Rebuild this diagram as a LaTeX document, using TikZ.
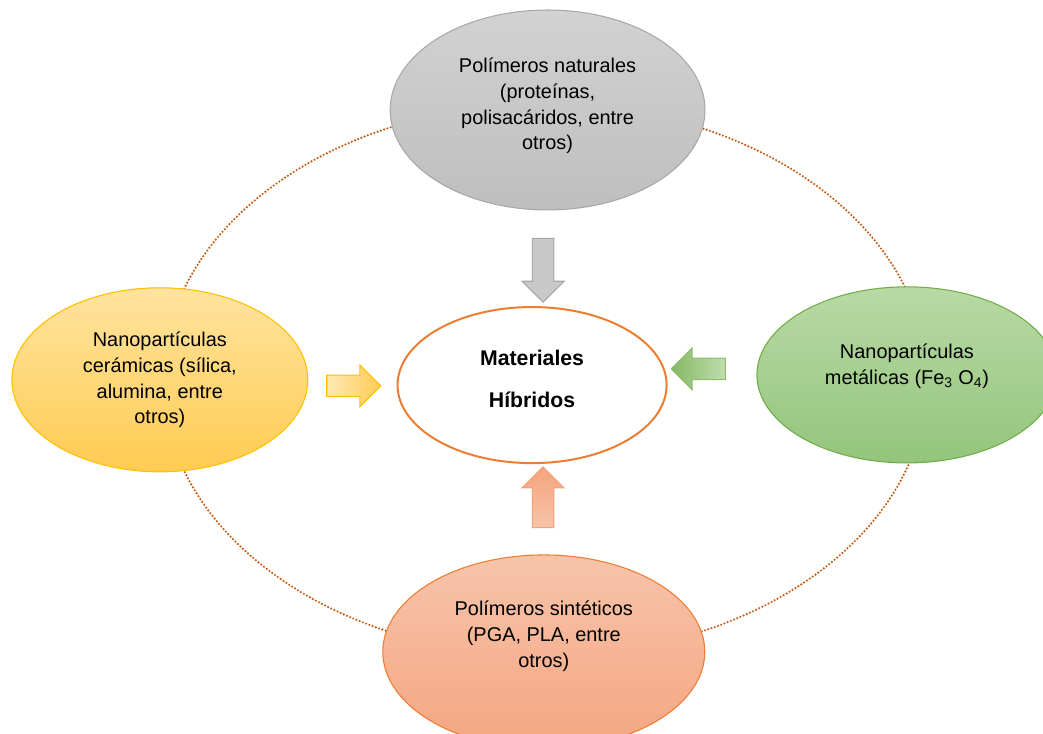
\documentclass[tikz,border=0pt]{standalone}
\usepackage{fontspec}
\setmainfont{Liberation Sans}
\usepackage{tikz}
\usetikzlibrary{positioning}
\usetikzlibrary{shapes}
\usetikzlibrary{shapes.arrows}

\definecolor{ringorange}{HTML}{C55A11}
\definecolor{hubline}{HTML}{ED7D31}
\definecolor{grayA}{HTML}{D2D2D2}
\definecolor{grayB}{HTML}{BEBEBE}
\definecolor{grayline}{HTML}{A8A8A8}
\definecolor{yelA}{HTML}{FFE39F}
\definecolor{yelB}{HTML}{FFCC52}
\definecolor{yelline}{HTML}{FFC000}
\definecolor{grnA}{HTML}{B8D9A5}
\definecolor{grnB}{HTML}{94C57C}
\definecolor{grnline}{HTML}{70AD47}
\definecolor{orgA}{HTML}{F7C4AA}
\definecolor{orgB}{HTML}{F4A681}
\definecolor{orgline}{HTML}{ED7D31}

\begin{document}
\begin{tikzpicture}[
		ell/.style={ellipse, draw, line width=0.8pt},
		txt/.style={align=center, font=\fontsize{15}{19.5}\selectfont},
		blockarrow/.style={single arrow, draw, line width=0.8pt, inner sep=0.27cm, single arrow head extend=0.27cm},
		ring/.style={draw=ringorange, line width=1.8pt, line cap=round, dash pattern=on 0pt off 2.6pt}
	]
			\useasboundingbox (0,0) rectangle (27.6,-19.42);
			
			% dotted ring behind the ellipses
			\coordinate (C) at (14.42,-10.05);
			\draw[ring] (C) ellipse [x radius=10.11cm, y radius=7.30cm];
			
			\node[ell, draw=hubline, line width=1.5pt, fill=white, minimum width=7.12cm, minimum height=4.13cm] (0) at (14.08,-10.19) {};
			\node[ell, draw=grayline, top color=grayA, bottom color=grayB, minimum width=8.33cm, minimum height=5.29cm] (1) at (14.49,-2.91) {};
			\node[ell, draw=yelline, top color=yelA, bottom color=yelB, minimum width=7.83cm, minimum height=4.87cm] (2) at (4.23,-10.05) {};
			\node[ell, draw=grnline, top color=grnA, bottom color=grnB, minimum width=7.94cm, minimum height=4.66cm] (3) at (24.00,-9.92) {};
			\node[ell, draw=orgline, top color=orgA, bottom color=orgB, minimum width=8.52cm, minimum height=5.13cm] (4) at (14.39,-17.25) {};
			
			\node[txt, font=\bfseries\fontsize{16}{32}\selectfont] (0t) at ([yshift=0.17cm]0.center) {Materiales\\Híbridos};
			\node[txt] (1t) at ([yshift=0.11cm]1.center) {Polímeros naturales\\(proteínas,\\polisacáridos, entre\\otros)};
			\node[txt] (2t) at (2.center) {Nanopartículas\\cerámicas (sílica,\\alumina, entre\\otros)};
			\node[txt] (3t) at ([yshift=0.24cm]3.center) {Nanopartículas\\metálicas (Fe\textsubscript{3} O\textsubscript{4})};
			\node[txt] (4t) at ([yshift=0.42cm]4.center) {Polímeros sintéticos\\(PGA, PLA, entre\\otros)};
			
			% block arrows pointing at the hub
			\node[blockarrow, shape border rotate=270, minimum height=1.69cm, draw=grayline, fill=grayB!85!white] (5) at (14.37,-7.01) {};
			\node[blockarrow, minimum height=1.43cm, draw=yelline, left color=yelA!80!white, right color=yelB] (6) at (9.22,-10.21) {};
			\node[blockarrow, shape border rotate=180, minimum height=1.43cm, draw=grnline!80!white, left color=grnline!85!white, right color=grnA!90!white] (7) at (18.62,-9.76) {};
			\node[blockarrow, shape border rotate=90, minimum height=1.61cm, draw=orgB!90!orgline, top color=orgB!95!orgline, bottom color=orgA] (8) at (14.37,-13.30) {};
		\end{tikzpicture}
\end{document}
